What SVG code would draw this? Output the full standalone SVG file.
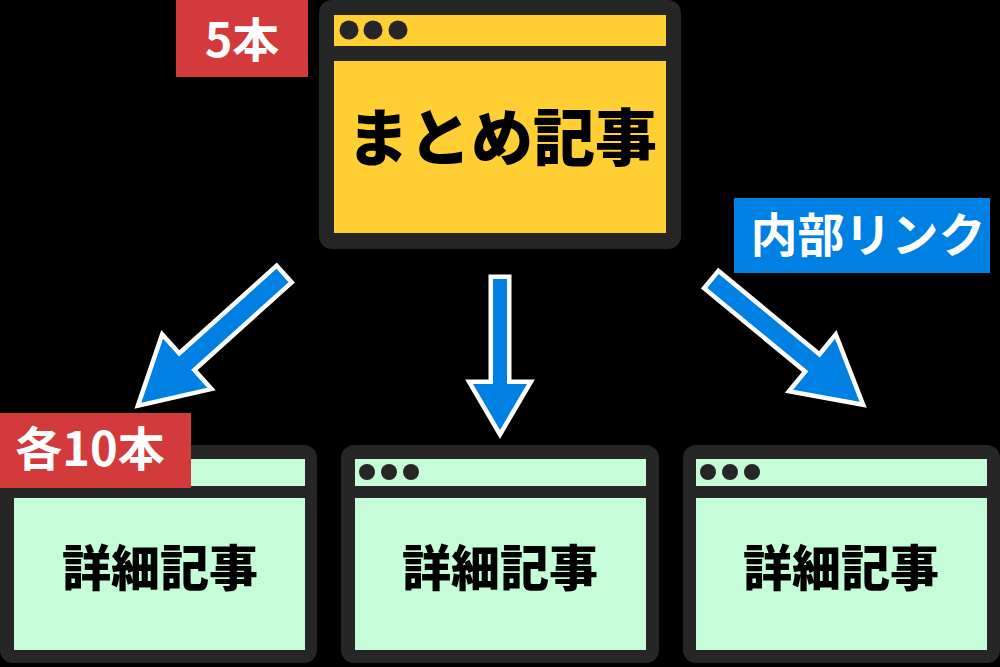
<svg xmlns="http://www.w3.org/2000/svg" width="1000" height="667" viewBox="0 0 1000 667">
<style>
.frame{fill:#262626}
.top{fill:#ffcf33}
.sub{fill:#c4fdd7}
.dot{fill:#262626}
.arrow{fill:#0080e2;stroke:#ffffff;stroke-width:9;stroke-linejoin:miter;stroke-miterlimit:10;paint-order:stroke fill}
.jp{font-family:"Noto Sans CJK JP","Noto Sans",sans-serif;text-anchor:middle}
.title{font-size:62px;font-weight:900;fill:#000}
.subt{font-size:49px;font-weight:900;fill:#000}
.tag{font-size:47px;font-weight:700;fill:#fff}
.red{fill:#d33a3b}
.blue{fill:#0080e2}
</style>
<defs>
<polygon id="sideArrow" points="0,-9 131,-9 131,-33 190,0 131,33 131,9 0,9"/>
</defs>
<rect x="0" y="0" width="1000" height="667" fill="#000"/>

<g id="connectors">
<use href="#sideArrow" class="arrow" transform="translate(282.5,275.5) rotate(138)"/>
<polygon class="arrow" points="493,279 507,279 507,384 527,384 500,430 473,384 493,384"/>
<use href="#sideArrow" class="arrow" transform="translate(713,281) rotate(39.5)"/>
</g>

<g id="summary">
<rect class="frame" x="319" y="0" width="362" height="249" rx="13"/>
<rect class="top" x="334" y="15" width="332" height="31"/>
<rect class="top" x="334" y="61" width="332" height="172"/>
<circle class="dot" cx="349" cy="30" r="9.5"/>
<circle class="dot" cx="373" cy="30" r="9.5"/>
<circle class="dot" cx="398" cy="30" r="9.5"/>
<text class="jp title" x="502" y="161">まとめ記事</text>
</g>

<g id="detail1">
<rect class="frame" x="0" y="445" width="317" height="218" rx="13"/>
<rect class="sub" x="14" y="459" width="291" height="27"/>
<rect class="sub" x="14" y="498" width="291" height="152"/>
<text class="jp subt" x="160" y="586">詳細記事</text>
</g>

<g id="detail2">
<rect class="frame" x="341" y="445" width="318" height="218" rx="13"/>
<rect class="sub" x="355" y="459" width="291" height="27"/>
<rect class="sub" x="355" y="498" width="291" height="152"/>
<circle class="dot" cx="367" cy="472" r="8"/>
<circle class="dot" cx="389" cy="472" r="8"/>
<circle class="dot" cx="411" cy="472" r="8"/>
<text class="jp subt" x="500" y="586">詳細記事</text>
</g>

<g id="detail3">
<rect class="frame" x="683" y="445" width="317" height="218" rx="13"/>
<rect class="sub" x="696" y="459" width="291" height="27"/>
<rect class="sub" x="696" y="498" width="291" height="152"/>
<circle class="dot" cx="708" cy="472" r="8"/>
<circle class="dot" cx="730" cy="472" r="8"/>
<circle class="dot" cx="752" cy="472" r="8"/>
<text class="jp subt" x="841" y="586">詳細記事</text>
</g>

<g id="label-5">
<rect class="red" x="176" y="0" width="132" height="77"/>
<text class="jp tag" x="242" y="57">5本</text>
</g>

<g id="label-10">
<rect class="red" x="0" y="413" width="191" height="75"/>
<text class="jp tag" x="90" y="466">各10本</text>
</g>

<g id="label-link">
<rect class="blue" x="734" y="198" width="256" height="75"/>
<text class="jp tag" x="868" y="252">内部リンク</text>
</g>
</svg>
